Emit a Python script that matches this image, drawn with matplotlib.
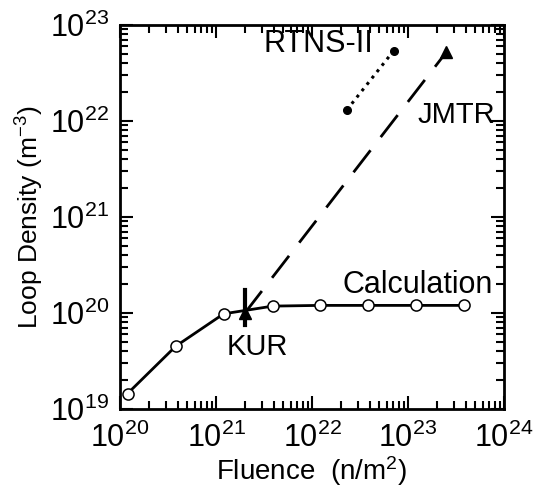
import matplotlib
matplotlib.use("Agg")
from matplotlib import pyplot as plt
from matplotlib.ticker import LogLocator, NullFormatter

plt.rcParams['font.family'] = ['Liberation Sans', 'DejaVu Sans']
plt.rcParams['mathtext.fontset'] = 'custom'
plt.rcParams['mathtext.rm'] = 'Liberation Sans'
plt.rcParams['mathtext.it'] = 'Liberation Sans:italic'
plt.rcParams['mathtext.bf'] = 'Liberation Sans:bold'

# calculation curve
calc_fluence = [1.2e20, 3.8e20, 1.2e21, 3.9e21, 1.2e22, 3.8e22, 1.2e23, 3.8e23]
calc_density = [1.45e19, 4.5e19, 9.8e19, 1.18e20, 1.2e20, 1.2e20, 1.2e20, 1.2e20]

# experiments
kur_fluence = [2.0e21]
kur_density = [1.0e20]
kur_err = [1.75e20, 0.75e20]   # top, bottom of the vertical bar
jmtr_fluence = [2.0e21, 2.5e23]
jmtr_density = [1.0e20, 5.2e22]
rtns_fluence = [2.3e22, 7.1e22]
rtns_density = [1.3e22, 5.4e22]

fig = plt.figure(figsize=(5.37, 4.94), dpi=100)
ax = fig.add_axes([120/537, 85/494, 384/537, 384/494])

ax.plot(calc_fluence, calc_density, '-', color='black', lw=2,
        marker='o', mfc='white', mec='black', ms=8, mew=1.1, zorder=3)
ax.plot(jmtr_fluence, jmtr_density, color='black', lw=2, dashes=(10, 6))
ax.plot(jmtr_fluence[1:], jmtr_density[1:], '^', color='black', ms=9)
ax.plot(kur_fluence, kur_density, '^', color='black', ms=9, zorder=4)
ax.plot([kur_fluence[0]] * 2, kur_err, color='black', lw=3, zorder=4)
ax.plot(rtns_fluence, rtns_density, ':', color='black', lw=2.2,
        marker='o', ms=5.5)

ax.set_xscale('log')
ax.set_yscale('log')
ax.set_xlim(1e20, 1e24)
ax.set_ylim(1e19, 1e23)

for axis in (ax.xaxis, ax.yaxis):
    axis.set_major_locator(LogLocator(base=10, numticks=10))
    axis.set_minor_locator(LogLocator(base=10, subs=range(2, 10), numticks=10))
    axis.set_minor_formatter(NullFormatter())
ax.tick_params(which='both', direction='in', top=True, right=True, width=1.5)
ax.tick_params(which='major', length=9.5, labelsize=22)
ax.tick_params(axis='x', which='major', pad=10)
ax.tick_params(axis='y', which='major', pad=8)
ax.tick_params(which='minor', length=5.5)
for s in ax.spines.values():
    s.set_linewidth(2)

ax.set_xlabel('Fluence  (n/m$^2$)', fontsize=20, labelpad=0)
ax.set_ylabel('Loop Density (m$^{-3}$)', fontsize=19, labelpad=3)

ax.text(3.1e21, 6.3e22, 'RTNS-II', fontsize=22, ha='left', va='center')
ax.text(1.26e23, 1.15e22, 'JMTR', fontsize=21, ha='left', va='center')
ax.text(2.1e22, 1.95e20, 'Calculation', fontsize=22, ha='left', va='center')
ax.text(1.3e21, 4.4e19, 'KUR', fontsize=21, ha='left', va='center')

fig.savefig('out.png', dpi=100)
